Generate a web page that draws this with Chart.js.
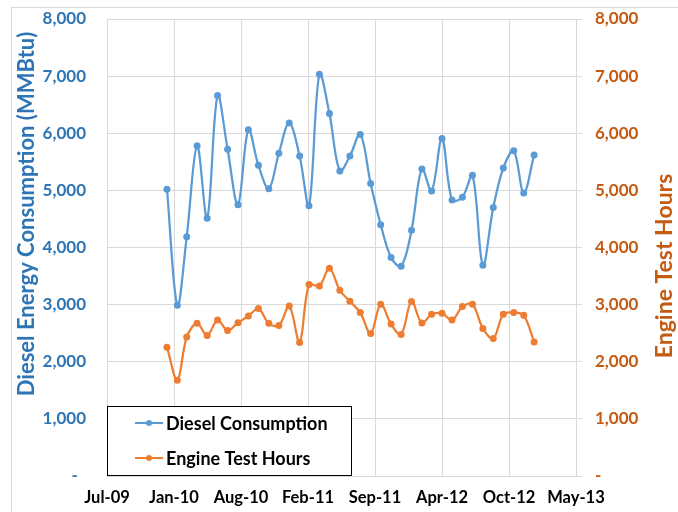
<!DOCTYPE html>
<html><head><meta charset="utf-8">
<script src="https://cdn.jsdelivr.net/npm/chart.js@4/dist/chart.umd.min.js"></script>
<style>html,body{margin:0;padding:0;background:#fff;}canvas{display:block;}</style>
</head><body>
<canvas id="c" width="678" height="512" style="width:678px;height:512px"></canvas>
<script>
// ---- data ----
const months = ['2010-01','2010-02','2010-03','2010-04','2010-05','2010-06','2010-07','2010-08','2010-09','2010-10','2010-11','2010-12',
  '2011-01','2011-02','2011-03','2011-04','2011-05','2011-06','2011-07','2011-08','2011-09','2011-10','2011-11','2011-12',
  '2012-01','2012-02','2012-03','2012-04','2012-05','2012-06','2012-07','2012-08','2012-09','2012-10','2012-11','2012-12','2013-01'];
const dieselConsumption = [5020,2990,4190,5780,4510,6660,5720,4750,6060,5440,5030,5650,
  6180,5600,4730,7035,6345,5340,5600,5980,5120,4400,3825,3670,
  4300,5375,4990,5910,4830,4880,5265,3690,4700,5390,5695,4955,5620];
const engineTestHours = [2256,1677,2432,2672,2461,2730,2549,2684,2800,2930,2672,2633,
  2975,2339,3351,3326,3637,3251,3058,2860,2496,3005,2660,2479,
  3053,2677,2830,2847,2730,2965,3005,2584,2409,2830,2860,2812,2344];
const xTickLabels = ['Jul-09','Jan-10','Aug-10','Feb-11','Sep-11','Apr-12','Oct-12','May-13'];
const yTickLabels = ['-','1,000','2,000','3,000','4,000','5,000','6,000','7,000','8,000'];
const seriesNames = ['Diesel Consumption','Engine Test Hours'];
const leftTitle = 'Diesel Energy Consumption (MMBtu)';
const rightTitle = 'Engine Test Hours';

// Excel-style date serial for the first day of a month
function serial(ym){const p=ym.split('-').map(Number);return (Date.UTC(p[0],p[1]-1,1)-Date.UTC(1899,11,30))/86400000;}
const X_MIN = 40000, X_MAX = 41400, X_STEP = 200;

const BLUE='#5B9BD5', ORANGE='#ED7D31', BLUE_T='#2E75B6', ORANGE_T='#C55A11', GRID='#D9D9D9';
const FONT='Lato';

const bgPlugin={id:'bg',beforeDraw(ch){const c=ch.ctx;c.save();c.fillStyle='#fff';c.fillRect(0,0,ch.width,ch.height);
  c.strokeStyle=GRID;c.lineWidth=1;c.strokeRect(11.5,7.5,1000,1000);c.restore();}};

const decoPlugin={id:'deco',afterDraw(ch){
  const c=ch.ctx;c.save();
  c.textAlign='center';c.textBaseline='middle';
  c.font='bold 22px '+FONT;
  c.fillStyle=BLUE_T;c.save();c.translate(27,214);c.rotate(-Math.PI/2);c.fillText(leftTitle,0,0);c.restore();
  c.font='bold 23px '+FONT;
  c.fillStyle=ORANGE_T;c.save();c.translate(665,266);c.rotate(-Math.PI/2);c.fillText(rightTitle,0,0);c.restore();
  // legend
  c.fillStyle='#fff';c.fillRect(107,406,245,70);
  c.strokeStyle='#000';c.lineWidth=1;c.strokeRect(107.5,406.5,244,69);
  const rows=[423,458];
  ch.data.datasets.forEach((ds,i)=>{
    const y=rows[i];
    c.strokeStyle=ds.borderColor;c.lineWidth=2;c.beginPath();c.moveTo(135,y);c.lineTo(163,y);c.stroke();
    c.fillStyle=ds.borderColor;c.beginPath();c.arc(149,y,3,0,Math.PI*2);c.fill();
    c.fillStyle='#000';c.textAlign='left';c.font='bold 18px '+FONT;c.fillText(ds.label,166,y+1);
  });
  c.restore();
}};

function fitY(w){return s=>{s.width=w;s.paddingTop=0;s.paddingBottom=0;};}

function build(){
new Chart(document.getElementById('c'),{
  type:'line',
  data:{datasets:[
    {label:seriesNames[0],data:months.map((m,i)=>({x:serial(m),y:dieselConsumption[i]})),yAxisID:'y',
     borderColor:BLUE,backgroundColor:BLUE,borderWidth:2.25,pointRadius:3.5,pointBorderWidth:0,tension:0.35},
    {label:seriesNames[1],data:months.map((m,i)=>({x:serial(m),y:engineTestHours[i]})),yAxisID:'y1',
     borderColor:ORANGE,backgroundColor:ORANGE,borderWidth:2.25,pointRadius:3.5,pointBorderWidth:0,tension:0.35}
  ]},
  options:{
    responsive:false,animation:false,
    layout:{padding:{top:19,left:0,right:0,bottom:0}},
    plugins:{legend:{display:false},tooltip:{enabled:false}},
    scales:{
      x:{type:'linear',position:'bottom',min:X_MIN,max:X_MAX,
        ticks:{stepSize:X_STEP,autoSkip:false,maxRotation:0,padding:12,color:'#000',
          font:{family:FONT,weight:'bold',size:16.5},callback:(v,i)=>xTickLabels[i]},
        grid:{color:GRID,drawTicks:false},border:{color:GRID},
        afterFit:s=>{s.height=36;}},
      y:{position:'left',min:0,max:8000,
        ticks:{stepSize:1000,padding:21,color:BLUE_T,font:{family:FONT,weight:'bold',size:17},
          callback:v=>yTickLabels[Math.round(v/1000)]+(v===0?'  ':'')},
        grid:{color:GRID,drawTicks:false},border:{display:false},
        afterFit:fitY(107)},
      y1:{position:'right',min:0,max:8000,
        ticks:{stepSize:1000,padding:13,color:ORANGE_T,font:{family:FONT,weight:'bold',size:17},
          callback:v=>yTickLabels[Math.round(v/1000)]},
        grid:{drawOnChartArea:false,color:GRID,tickLength:6},border:{color:GRID},
        afterFit:fitY(102)}
    }
  },
  plugins:[bgPlugin,decoPlugin]
});
}
if(document.fonts&&document.fonts.load){document.fonts.load('bold 16px Lato').then(build,build);}else build();
</script>
</body></html>
